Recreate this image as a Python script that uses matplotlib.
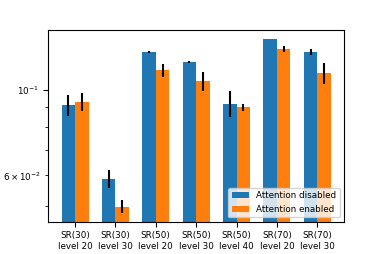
import numpy as np
import matplotlib
matplotlib.use("Agg")
import matplotlib.pyplot as plt

labels = ["SR(30)\nlevel 20", "SR(30)\nlevel 30", "SR(50)\nlevel 20", "SR(50)\nlevel 30",
          "SR(50)\nlevel 40", "SR(70)\nlevel 20", "SR(70)\nlevel 30"]
disabled = [0.0911, 0.0588, 0.1252, 0.1182, 0.0920, 0.1353, 0.1252]
disabled_err = [0.0058, 0.0030, 0.0004, 0.0006, 0.0070, 0.0003, 0.0021]
enabled = [0.0931, 0.0498, 0.1123, 0.1051, 0.0900, 0.1272, 0.1103]
enabled_err = [0.0050, 0.0019, 0.0043, 0.0060, 0.0020, 0.0023, 0.0071]

plt.rcParams['font.size'] = 6.3

fig = plt.figure(figsize=(3.82, 2.54), dpi=100)
ax = fig.add_axes([0.126, 0.127, 0.775, 0.755])

x = np.arange(len(labels))
w = 1 / 3
ax.bar(x - w / 2, disabled, w, yerr=disabled_err, label="Attention disabled", color="#1f77b4")
ax.bar(x + w / 2, enabled, w, yerr=enabled_err, label="Attention enabled", color="#ff7f0e")
ax.set_yscale("log")
ax.set_ylim(0.0455, 0.1428)
ax.set_xticks(x)
ax.set_xticklabels(labels)
ax.legend(loc="lower right")

fig.savefig("out.png", dpi=100)
